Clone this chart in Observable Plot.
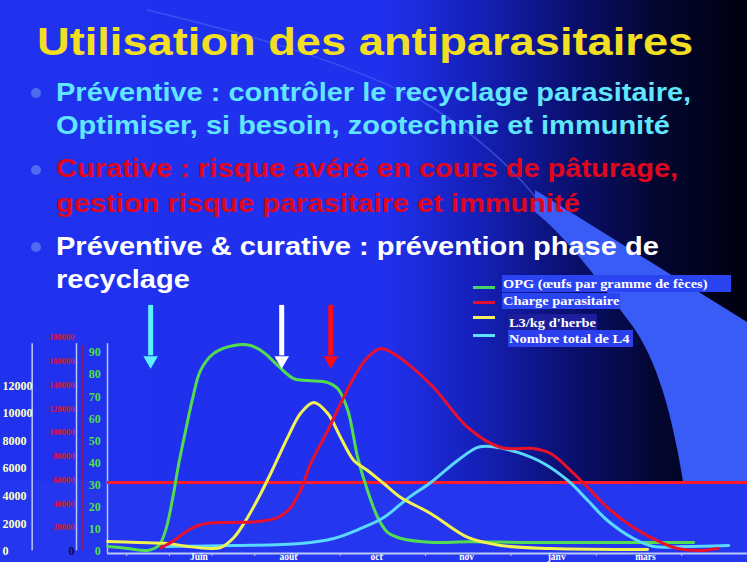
<!DOCTYPE html>
<html>
<head>
<meta charset="utf-8">
<script src="https://cdn.jsdelivr.net/npm/d3@7"></script>
<script src="https://cdn.jsdelivr.net/npm/@observablehq/plot@0.6"></script>
<style>
  html, body { margin: 0; padding: 0; }
  #page { position: relative; width: 747px; height: 562px; overflow: hidden;
    background: linear-gradient(to right, #2032ee 0%, #2030ec 52%, #1520b8 64%, #0a1070 76%, #030630 88%, #000010 100%); }
  #bg { position: absolute; left: 0; top: 0; }
  .t { position: absolute; white-space: nowrap; font-family: "Liberation Sans", Arial, sans-serif; font-weight: bold;
       transform-origin: 0 0; }
  .line { font-size: 25px; line-height: 25px; left: 56px; transform: scaleX(1.16); }
  .bullet { position: absolute; width: 10px; height: 10px; border-radius: 50%; background: #4d6cf2; }
  .lg { position: absolute; font-family: "Liberation Serif", "Times New Roman", serif; font-weight: bold; font-size: 13px;
        color: #fff; white-space: nowrap; line-height: 17px; padding-left: 1px; box-sizing: border-box; overflow: visible; }
  .lg span { display: inline-block; transform: scaleX(1.11); transform-origin: 0 0; }
  .sw { position: absolute; width: 22px; height: 3px; }
  #chart { position: absolute; left: 0; top: 270px; }
</style>
</head>
<body>
<div id="page">
  <svg id="bg" width="747" height="562">
    <rect x="0" y="481" width="747" height="81" fill="#2436ee"></rect>
    <path d="M147,10 C230,30 330,55 420,100 C470,130 510,165 538,200" fill="none" stroke="#4a68f4" stroke-width="1.5" opacity="0.6"></path>
    <path d="M535,190 L747,322 L747,481 L683,481 C670,400 652,350 628,320 C600,283 570,240 535,212 Z" fill="#3a5cf6"></path>
  </svg>

  <div class="t" style="left:37px; top:22px; font-size:39px; line-height:39px; color:#f2de22; transform:scaleX(1.16);">Utilisation des antiparasitaires</div>

  <div class="bullet" style="left:31px; top:88px;"></div>
  <div class="t line" style="top:80px; color:#60e6ff;">Préventive : contrôler le recyclage parasitaire,</div>
  <div class="t line" style="top:113px; color:#60e6ff;">Optimiser, si besoin, zootechnie et immunité</div>

  <div class="bullet" style="left:31px; top:165px;"></div>
  <div class="t line" style="top:156px; color:#e0061e;">Curative : risque avéré en cours de pâturage,</div>
  <div class="t line" style="top:191px; color:#e0061e;">gestion risque parasitaire et immunité</div>

  <div class="bullet" style="left:31px; top:242px;"></div>
  <div class="t line" style="top:234px; color:#ffffff;">Préventive &amp; curative : prévention phase de</div>
  <div class="t line" style="top:267px; color:#ffffff;">recyclage</div>

  <div id="chart"></div>

  <div class="sw" style="left:473px; top:286px; background:#44d46a;"></div>
  <div class="sw" style="left:473px; top:301px; background:#e01030;"></div>
  <div class="sw" style="left:473px; top:316px; background:#f0f060;"></div>
  <div class="sw" style="left:473px; top:334px; background:#60e0ff;"></div>
  <div class="lg" style="left:502px; top:275px; width:229px; height:17px; background:#2a44f2;"><span>OPG (œufs par gramme de fèces)</span></div>
  <div class="lg" style="left:502px; top:293px; width:118px; height:16px; line-height:16px; background:#2a44f2;"><span>Charge parasitaire</span></div>
  <div class="lg" style="left:508px; top:314px; width:89px; height:17px; background:#1c1e9c;"><span>L3/kg d'herbe</span></div>
  <div class="lg" style="left:508px; top:330px; width:125px; height:17px; background:#2a40ee;"><span>Nombre total de L4</span></div>
</div>

<script>
// ---------- data ----------
// x = position along the time axis, in tick intervals (tick 0 .. 13)
const xTicks = [0, 1, 2, 3, 4, 5, 6, 7, 8, 9, 10, 11, 12, 13];
const monthLabels = ["Juin", "août", "oct", "nov", "janv", "mars"];
const monthLabelX = [1.69, 3.79, 5.85, 7.96, 10.07, 12.15];

// left axes tick labels
const opgTicks = [0, 10, 20, 30, 40, 50, 60, 70, 80, 90];
const chargeTicks = [20000, 40000, 60000, 80000, 100000, 120000, 140000, 160000, 180000];
const larvaTicks = [0, 2000, 4000, 6000, 8000, 10000, 12000];

// OPG (green axis units)
const opg = [[-0.445,2.3],[0.02,1.4],[0.49,0.5],[0.75,2.7],[0.91,9.5],[1.08,24.4],[1.22,39.8],[1.38,54.7],
  [1.55,69.7],[1.73,81.9],[2.04,89.6],[2.51,93.2],[2.90,93.2],[3.21,90.0],[3.54,84.1],[3.91,78.2],[4.24,77.3],
  [4.71,76.4],[4.94,73.7],[5.18,63.8],[5.41,42.5],[5.64,27.6],[5.88,15.4],[6.11,8.6],[6.42,5.9],[7.19,4.1],
  [7.99,4.4],[9.53,4.1],[13.28,4.1]];

// Charge parasitaire (red axis units)
const charge = [[0.80,3000],[1.10,9000],[1.43,17700],[1.73,22500],[1.97,24000],[2.51,24400],[3.07,25200],
  [3.54,28600],[3.84,37000],[4.07,51300],[4.31,74000],[4.71,101800],[5.01,124500],[5.32,146300],[5.64,163200],
  [5.95,170700],[6.25,166500],[6.65,156000],[7.19,138000],[7.99,104300],[8.76,87500],[9.53,86600],[9.93,82400],
  [10.47,65600],[10.80,53800],[11.26,37000],[11.87,20200],[12.51,7600],[12.90,2500],[13.44,800],[13.84,2500]];

// L3/kg d'herbe (white axis units)
const l3 = [[-0.445,724],[0.26,652],[0.96,579],[1.43,362],[1.97,217],[2.20,290],[2.51,1014],[2.83,2462],
  [3.14,4200],[3.44,6082],[3.77,8254],[4.07,9991],[4.38,10788],[4.71,9991],[5.01,8254],[5.32,6588],[5.64,5864],
  [6.02,4923],[6.42,3910],[7.12,2751],[7.99,1014],[8.76,434],[9.93,217],[12.20,145]];

// Nombre total de L4 (white axis units)
const l4 = [[0.91,362],[2.51,434],[4.07,579],[4.85,941],[5.48,1665],[6.02,2462],[6.58,3837],[7.12,4996],
  [7.75,6588],[8.22,7530],[8.52,7602],[9.16,7168],[9.77,6371],[10.33,5140],[10.80,3692],[11.26,2244],
  [11.87,941],[12.34,362],[13.04,362],[14.10,434]];

const threshold = 5000;          // horizontal red line (white axis units)
const arrowX = [0.56, 3.63, 4.78];
const arrowColors = ["#5ef0ff", "#ffffff", "#ff0a14"];

// ---------- scale factors between axes ----------
const CHARGE_PER_UNIT = 1860;   // red axis value per green-axis unit
const LARVA_PER_UNIT = 160;     // white axis value per green-axis unit

const xStart = -0.45, xEnd = 14.54;
const xGreenAxis = -0.45, xRedAxis = -1.176, xRedAxis2 = -1.036, xWhiteAxis = -2.214;
const xGreenLab = -0.61, xRedLab = -1.223, xWhiteLab = -2.91;

const series = [
  {data: opg.map(([x, y]) => ({x, y})), stroke: "#52dc50"},
  {data: l4.map(([x, v]) => ({x, y: v / LARVA_PER_UNIT})), stroke: "#5ad8ff"},
  {data: l3.map(([x, v]) => ({x, y: v / LARVA_PER_UNIT})), stroke: "#f2f250"},
  {data: charge.map(([x, v]) => ({x, y: v / CHARGE_PER_UNIT})), stroke: "#e8102c"}
];

const serif = "'Liberation Serif', 'Times New Roman', serif";

const plot = Plot.plot({
  width: 747,
  height: 292,
  marginTop: 82,
  marginBottom: 11,
  marginLeft: 107,
  marginRight: 0,
  x: {domain: [xStart, xEnd], axis: null},
  y: {domain: [0, 90], axis: null},
  style: {background: "transparent", overflow: "visible"},
  marks: [
    // vertical axis lines
    Plot.ruleX([xWhiteAxis], {y1: 0.3, y2: 94, stroke: "#b8c8ff", strokeWidth: 1.5}),
    Plot.ruleX([xRedAxis], {y1: 0.3, y2: 94, stroke: "#b8c8ff", strokeWidth: 1.5}),
    Plot.ruleX([xRedAxis2], {y1: 0.3, y2: 93, stroke: "#b0103a", strokeWidth: 1, strokeOpacity: 0.7}),
    Plot.ruleX([xGreenAxis], {y1: -0.9, y2: 94, stroke: "#b8c8ff", strokeWidth: 1.5}),
    // x axis line and ticks
    Plot.ruleY([-0.9], {x1: xStart, x2: xEnd, stroke: "#b8c8ff", strokeWidth: 2}),
    Plot.ruleX(xTicks, {x: d => d, y1: -0.9, y2: -2.3, stroke: "#b8c8ff", strokeWidth: 1}),
    Plot.text(monthLabels, {x: (d, i) => monthLabelX[i], y: 0, dy: 5, text: d => d, fill: "#ffffff",
      fontFamily: serif, fontWeight: "bold", fontSize: 9.5}),
    // left axis tick labels
    Plot.text(opgTicks, {x: xGreenLab, y: d => d, text: d => String(d), textAnchor: "end", fill: "#52dc50",
      fontFamily: serif, fontWeight: "bold", fontSize: 12}),
    Plot.text(chargeTicks, {x: xRedLab, y: d => d / CHARGE_PER_UNIT, text: d => String(d), textAnchor: "end",
      fill: "#e0103a", fontFamily: serif, fontWeight: "bold", fontSize: 8.5}),
    Plot.text([0], {x: xRedLab, y: 0, text: d => String(d), textAnchor: "end", fill: "#0a0a50",
      fontFamily: serif, fontWeight: "bold", fontSize: 12}),
    Plot.text(larvaTicks, {x: xWhiteLab, y: d => d / LARVA_PER_UNIT, text: d => String(d), textAnchor: "start",
      fill: "#ffffc8", fontFamily: serif, fontWeight: "bold", fontSize: 12}),
    // threshold
    Plot.ruleY([threshold / LARVA_PER_UNIT], {x1: xStart, x2: xEnd, stroke: "#ff1a2a", strokeWidth: 3}),
    // curves
    ...series.map(s => Plot.line(s.data, {x: "x", y: "y", stroke: s.stroke, strokeWidth: 3, curve: "catmull-rom"})),
    // arrows
    Plot.ruleX(arrowX, {x: d => d, y1: 111.3, y2: 88.5, stroke: (d, i) => arrowColors[i], strokeWidth: 5}),
    Plot.dot(arrowX, {x: d => d, y: 86.4, symbol: "triangle", rotate: 180, r: 5.4,
      fill: (d, i) => arrowColors[i], stroke: "none"})
  ]
});

document.getElementById("chart").appendChild(plot);
</script>
</body>
</html>
